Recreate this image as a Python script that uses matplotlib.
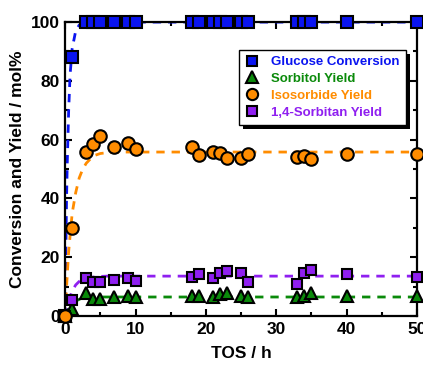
import matplotlib.pyplot as plt
from matplotlib.ticker import MultipleLocator
import matplotlib.patheffects as pe

plt.rcParams['font.family'] = ['Liberation Sans', 'DejaVu Sans']
plt.rcParams['font.weight'] = 'bold'

# Measured points (TOS in h, values in mol%)
t_glc = [0, 1, 3, 4, 5, 7, 9, 10, 18, 19, 21, 22, 23, 25, 26, 33, 34, 35, 40, 50]
glc_conv = [0, 88, 100, 100, 100, 100, 100, 100, 100, 100, 100, 100, 100, 100, 100,
            100, 100, 100, 100, 100]

t_prod = [0, 1, 3, 4, 5, 7, 9, 10, 18, 19, 21, 22, 23, 25, 26, 33, 34, 35, 40, 50]
sorbitol = [0, 2.4, 7.8, 5.8, 5.8, 6.5, 6.8, 6.5, 7.0, 7.0, 6.5, 7.5, 7.8, 7.0, 6.5,
            6.5, 7.0, 7.8, 7.0, 7.0]
isosorbide = [0, 30, 55.8, 58.5, 61.2, 57.5, 59.0, 56.8, 57.5, 54.8, 55.8, 55.4, 53.7,
              53.7, 55.1, 54.2, 54.5, 53.4, 55.0, 55.0]
sorbitan = [0, 5.4, 12.9, 11.6, 11.6, 12.2, 12.9, 12.0, 13.3, 14.3, 12.9, 14.6, 15.3,
            14.6, 11.6, 10.9, 14.6, 15.6, 14.3, 13.3]

# Fitted trend lines
t_fit_glc = [0, 0.1, 0.2, 0.3, 0.5, 0.7, 1.0, 1.5, 2.0, 3.0, 50]
glc_fit = [0, 22, 40, 52, 70, 82, 91, 97, 99, 100, 100]
t_fit = [0, 0.25, 0.5, 1.0, 1.5, 2.0, 2.5, 3.0, 4.0, 5.0, 6.0, 8.0, 50]
iso_fit = [0, 12, 22, 35, 42, 47, 50, 52, 54.5, 55.3, 55.6, 55.8, 55.8]
sorbitan_fit = [0, 2.8, 5.3, 8.6, 10.6, 11.8, 12.5, 12.9, 13.3, 13.5, 13.6, 13.6, 13.6]
sorbitol_fit = [0, 1.3, 2.5, 4.1, 5.1, 5.7, 6.0, 6.2, 6.4, 6.5, 6.5, 6.5, 6.5]

c_blue = '#0a14f0'
c_green = '#0a8a0a'
c_orange = '#ff8c00'
c_purple = '#8f1ff0'

fig = plt.figure(figsize=(4.23, 3.68), dpi=100)
ax = fig.add_axes([0.154, 0.141, 0.832, 0.799])

ax.plot(t_fit_glc, glc_fit, '--', color=c_blue, lw=2, dashes=(3, 2.5), zorder=2)
ax.plot(t_fit, iso_fit, '--', color=c_orange, lw=2, dashes=(3, 2.5), zorder=2)
ax.plot(t_fit, sorbitan_fit, '--', color=c_purple, lw=2, dashes=(3, 2.5), zorder=2)
ax.plot(t_fit, sorbitol_fit, '--', color=c_green, lw=2, dashes=(3, 2.5), zorder=2)

kw = dict(ls='none', mec='black', mew=1.5, clip_on=False)
ax.plot(t_glc, glc_conv, 's', ms=8, mfc=c_blue, label='Glucose Conversion', zorder=3, **kw)
ax.plot(t_prod, sorbitol, '^', ms=9, mfc=c_green, label='Sorbitol Yield', zorder=3, **kw)
ax.plot(t_prod, isosorbide, 'o', ms=9, mfc=c_orange, label='Isosorbide Yield', zorder=5, **kw)
ax.plot(t_prod, sorbitan, 's', ms=7.5, mfc=c_purple, label='1,4-Sorbitan Yield', zorder=4, **kw)

ax.set_xlim(0, 50)
ax.set_ylim(0, 100)
ax.xaxis.set_major_locator(MultipleLocator(10))
ax.xaxis.set_minor_locator(MultipleLocator(5))
ax.yaxis.set_major_locator(MultipleLocator(20))
ax.yaxis.set_minor_locator(MultipleLocator(10))
ax.tick_params(which='both', direction='in', top=True, right=True, width=1.5)
ax.tick_params(which='major', length=5, labelsize=12.5, pad=4)
ax.tick_params(which='minor', length=3)
for s in ax.spines.values():
    s.set_linewidth(1.6)

ax.set_xlabel('TOS / h', fontsize=12.5, fontweight='bold', labelpad=7)
ax.set_ylabel('Conversion and Yield / mol%', fontsize=12.5, fontweight='bold', labelpad=4)

leg = ax.legend(loc='upper left', bbox_to_anchor=(0.494, 0.905), borderaxespad=0,
                fontsize=9.5, frameon=True, fancybox=False, edgecolor='black',
                framealpha=1, handletextpad=1.0, borderpad=0.45, labelspacing=0.35,
                handlelength=1.0, markerscale=0.9)
leg.set_zorder(6)
leg.get_frame().set_linewidth(1.0)
leg.get_frame().set_path_effects([pe.SimplePatchShadow(offset=(3, -3), shadow_rgbFace='black', alpha=1), pe.Normal()])
for txt, col in zip(leg.get_texts(), [c_blue, c_green, c_orange, c_purple]):
    txt.set_color(col)
    txt.set_fontweight('bold')

fig.savefig('out.png', dpi=100)
